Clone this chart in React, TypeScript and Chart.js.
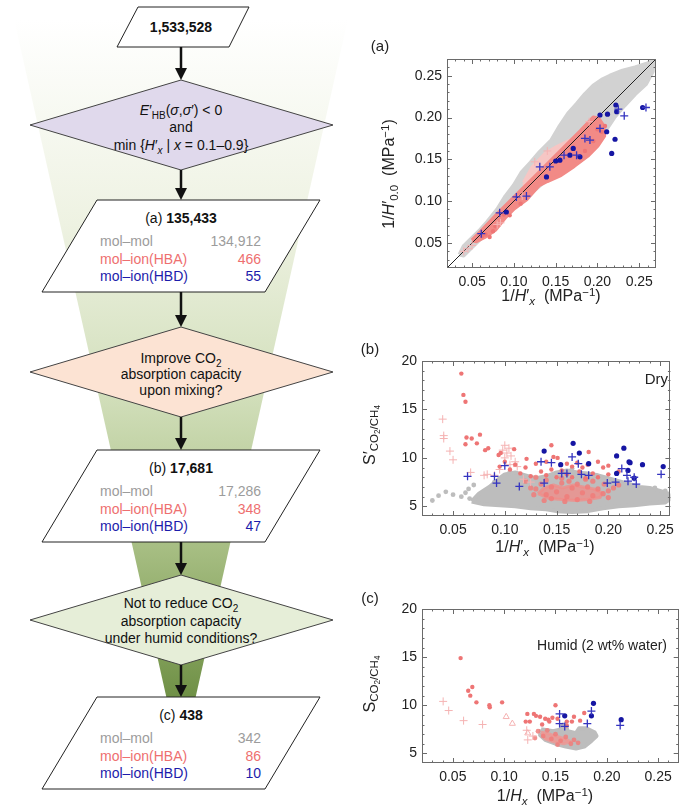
import React, { useEffect, useRef } from "react";
import { Chart, registerables } from "chart.js";
Chart.register(...registerables);

type P = [number, number];
const FONT = '"Liberation Sans", Arial, Helvetica, sans-serif';

// ---------- ticks ----------
const hTicks = [0.05, 0.1, 0.15, 0.2, 0.25];
const sTicks = [5, 10, 15, 20];

// ---------- panel (a) : 1/H'x vs 1/H'0.0 ----------
const aGrayCloud: P[] = [
  [0.035, 0.036], [0.04, 0.046], [0.05, 0.056], [0.06, 0.066], [0.068, 0.075], [0.08, 0.09],
  [0.09, 0.106], [0.1, 0.119], [0.109, 0.134], [0.12, 0.146], [0.131, 0.159], [0.145, 0.173],
  [0.155, 0.19], [0.165, 0.205], [0.175, 0.216], [0.185, 0.228], [0.195, 0.238], [0.205, 0.245],
  [0.215, 0.25], [0.23, 0.256], [0.245, 0.26], [0.258, 0.264], [0.267, 0.268], [0.266, 0.255],
  [0.258, 0.24], [0.245, 0.228], [0.232, 0.214], [0.22, 0.2], [0.21, 0.185], [0.2, 0.175],
  [0.19, 0.168], [0.15, 0.135], [0.1, 0.092], [0.06, 0.055], [0.04, 0.035],
];
const aPinkCloud: P[] = [
  [0.112, 0.122], [0.122, 0.14], [0.138, 0.157], [0.152, 0.165], [0.166, 0.172], [0.17, 0.165],
  [0.16, 0.158], [0.145, 0.146], [0.128, 0.13], [0.115, 0.116],
];
const aRedCloud: P[] = [
  [0.05, 0.053], [0.06, 0.063], [0.08, 0.084], [0.1, 0.104], [0.12, 0.124], [0.14, 0.144],
  [0.16, 0.164], [0.18, 0.184], [0.195, 0.2], [0.201, 0.199], [0.207, 0.19], [0.208, 0.178],
  [0.2, 0.166], [0.188, 0.154], [0.172, 0.142], [0.156, 0.131], [0.14, 0.124], [0.13, 0.119],
  [0.115, 0.102], [0.1, 0.091], [0.09, 0.081], [0.078, 0.066], [0.065, 0.057], [0.055, 0.052],
];
const aRedDots: P[] = [
  [0.062, 0.058], [0.066, 0.06], [0.071, 0.057], [0.075, 0.064], [0.078, 0.07], [0.088, 0.084],
  [0.095, 0.083], [0.108, 0.097], [0.195, 0.172], [0.205, 0.183], [0.2, 0.186], [0.185, 0.16],
  [0.209, 0.19],
];
const aPinkCross: P[] = [
  [0.04, 0.04], [0.045, 0.043], [0.05, 0.047], [0.08, 0.072], [0.084, 0.074], [0.11, 0.106],
  [0.125, 0.147], [0.14, 0.16], [0.19, 0.195],
];
const aBlueDots: P[] = [
  [0.222, 0.215], [0.223, 0.207], [0.212, 0.204], [0.203, 0.203], [0.254, 0.212], [0.211, 0.183],
  [0.221, 0.174], [0.217, 0.157], [0.171, 0.163], [0.167, 0.155], [0.179, 0.153], [0.155, 0.149],
  [0.139, 0.129], [0.091, 0.087], [0.15, 0.148],
];
const aBlueCross: P[] = [
  [0.232, 0.202], [0.203, 0.187], [0.191, 0.173], [0.143, 0.141], [0.131, 0.141], [0.103, 0.105],
  [0.083, 0.086], [0.061, 0.061], [0.115, 0.106], [0.16, 0.155], [0.175, 0.155], [0.185, 0.175],
  [0.225, 0.21], [0.258, 0.212],
];
const aDiagonal: P[] = [[0.02, 0.02], [0.27, 0.27]];

// ---------- panel (b) : Dry ----------
const bGrayCloud: P[] = [
  [0.068, 5.5], [0.075, 6.3], [0.085, 7.0], [0.095, 7.9], [0.1, 8.3], [0.11, 8.5], [0.12, 8.2],
  [0.13, 7.9], [0.14, 8.1], [0.15, 8.5], [0.16, 8.7], [0.17, 8.5], [0.18, 8.4], [0.19, 8.2],
  [0.2, 7.9], [0.21, 7.6], [0.22, 7.3], [0.23, 7.0], [0.24, 6.9], [0.25, 6.6], [0.258, 6.3],
  [0.26, 5.8], [0.255, 5.4], [0.24, 5.3], [0.225, 5.1], [0.21, 5.0], [0.195, 4.8], [0.18, 4.5],
  [0.165, 4.4], [0.15, 4.5], [0.14, 4.7], [0.125, 4.8], [0.11, 5.0], [0.095, 5.1], [0.08, 5.2],
];
const bGrayDots: P[] = [
  [0.03, 5.6], [0.036, 6.1], [0.043, 6.5], [0.05, 6.2], [0.058, 6.0], [0.062, 6.4], [0.065, 6.8],
  [0.07, 7.2], [0.066, 5.8], [0.09, 7.5], [0.255, 6.6], [0.245, 6.9], [0.105, 8.6], [0.165, 8.9],
];
const bRedCloud: P[] = [
  [0.132, 6.3], [0.138, 6.9], [0.147, 7.2], [0.156, 6.9], [0.166, 7.2], [0.176, 7.0],
  [0.186, 6.8], [0.194, 6.4], [0.192, 5.9], [0.18, 5.7], [0.168, 5.6], [0.155, 5.7],
  [0.143, 5.8],
];
const bRedFill: P[] = [
  [0.13, 6.8], [0.135, 7.3], [0.14, 6.2], [0.145, 7.0], [0.15, 6.5], [0.155, 7.4], [0.16, 6.0],
  [0.165, 6.9], [0.17, 7.3], [0.175, 6.4], [0.18, 7.0], [0.185, 6.1], [0.19, 6.8], [0.195, 6.3],
  [0.2, 6.6], [0.145, 5.8], [0.17, 5.7], [0.125, 6.9], [0.12, 7.6], [0.13, 8.0], [0.155, 7.9],
  [0.185, 7.6], [0.205, 6.9], [0.21, 7.2], [0.14, 7.7], [0.162, 7.6], [0.178, 7.8], [0.196, 7.3],
  [0.128, 6.2], [0.138, 5.6], [0.158, 5.5], [0.182, 5.5], [0.2, 5.9],
];
const bRedDots: P[] = [
  [0.058, 18.7], [0.06, 16.5], [0.062, 15.8], [0.063, 12.1], [0.062, 11.4], [0.068, 12.0],
  [0.073, 11.5], [0.076, 12.4], [0.081, 10.8], [0.084, 11.0], [0.094, 10.3], [0.096, 10.5],
  [0.109, 10.9], [0.121, 9.9], [0.145, 11.3], [0.147, 10.1], [0.151, 10.0], [0.181, 10.6],
  [0.1, 9.6], [0.11, 9.3], [0.12, 9.0], [0.13, 9.4], [0.14, 9.6], [0.16, 9.4], [0.165, 9.1],
  [0.17, 9.5], [0.175, 9.0], [0.18, 9.3], [0.19, 9.6], [0.195, 9.0], [0.2, 9.2], [0.135, 8.6],
  [0.145, 8.8], [0.155, 8.7], [0.16, 8.3], [0.172, 8.6], [0.185, 8.4], [0.19, 8.0], [0.2, 8.3],
  [0.21, 8.6], [0.125, 8.1], [0.115, 8.4], [0.105, 8.8], [0.095, 9.1], [0.14, 8.2], [0.15, 8.0],
  [0.165, 8.0], [0.178, 7.9],
];
const bPinkCross: P[] = [
  [0.04, 14.0], [0.041, 12.3], [0.041, 12.0], [0.047, 10.7], [0.05, 9.8], [0.067, 8.5],
  [0.08, 8.2], [0.083, 8.3], [0.098, 10.8], [0.1, 11.3], [0.102, 10.5], [0.104, 11.0],
  [0.106, 10.2], [0.1, 10.0], [0.11, 9.6], [0.112, 9.1], [0.105, 9.3], [0.095, 8.8], [0.09, 8.2],
  [0.118, 7.8], [0.125, 7.5],
];
const bBlueDots: P[] = [
  [0.138, 10.7], [0.166, 11.5], [0.172, 10.5], [0.215, 11.0], [0.208, 10.2], [0.154, 9.3],
  [0.181, 9.4], [0.221, 9.5], [0.233, 9.3], [0.253, 9.1], [0.208, 8.4], [0.219, 8.7],
  [0.225, 7.9], [0.22, 9.6],
];
const bBlueCross: P[] = [
  [0.165, 10.1], [0.171, 9.4], [0.1, 9.2], [0.064, 8.1], [0.09, 8.1], [0.092, 7.4], [0.114, 7.05],
  [0.138, 7.4], [0.155, 8.4], [0.16, 8.4], [0.174, 8.3], [0.181, 8.2], [0.199, 7.4], [0.207, 7.5],
  [0.213, 8.9], [0.218, 8.2], [0.219, 7.6], [0.227, 7.3], [0.251, 8.3], [0.145, 9.5],
  [0.135, 9.6], [0.225, 8.0],
];

// ---------- panel (c) : Humid ----------
const cGrayCloud: P[] = [
  [0.136, 7.5], [0.148, 7.3], [0.155, 7.5], [0.157, 8.0], [0.16, 7.9], [0.162, 7.3], [0.17, 7.1],
  [0.173, 7.6], [0.18, 7.6], [0.188, 7.2], [0.19, 6.8], [0.185, 6.3], [0.178, 5.7], [0.17, 5.5],
  [0.16, 5.7], [0.15, 6.0], [0.14, 6.4], [0.135, 6.9],
];
const cRedCloud: P[] = [
  [0.136, 7.2], [0.142, 7.1], [0.15, 6.8], [0.16, 6.5], [0.165, 6.2], [0.158, 6.0],
  [0.148, 6.2], [0.14, 6.5],
];
const cRedFill: P[] = [
  [0.133, 7.3], [0.138, 6.8], [0.142, 7.4], [0.146, 6.5], [0.15, 7.0], [0.155, 6.3], [0.16, 6.7],
  [0.165, 6.0], [0.168, 6.4], [0.152, 5.9], [0.172, 6.1], [0.13, 6.6],
];
const cRedDots: P[] = [
  [0.0576, 14.9], [0.065, 11.5], [0.069, 11.9], [0.067, 11.0], [0.073, 10.3], [0.0856, 10.0],
  [0.086, 9.8], [0.098, 10.3], [0.15, 10.0], [0.1226, 9.1], [0.129, 9.1], [0.121, 8.3],
  [0.125, 8.3], [0.135, 8.8], [0.14, 8.6], [0.143, 8.5], [0.144, 8.3], [0.137, 8.0], [0.168, 8.8],
  [0.161, 8.3], [0.166, 8.3], [0.174, 8.4], [0.178, 9.2], [0.161, 7.9], [0.147, 8.7],
  [0.152, 8.6], [0.131, 8.9],
];
const cPinkCross: P[] = [
  [0.0406, 10.4], [0.046, 9.45], [0.0605, 8.4], [0.079, 8.0], [0.123, 6.4], [0.122, 7.4],
  [0.128, 6.8],
];
const cPinkTri: P[] = [[0.102, 8.8], [0.108, 8.1], [0.123, 7.1]];
const cBlueDots: P[] = [[0.159, 8.9], [0.187, 10.2], [0.185, 8.9], [0.214, 8.5]];
const cBlueCross: P[] = [
  [0.185, 9.4], [0.181, 8.1], [0.213, 7.9], [0.154, 9.1], [0.154, 8.1], [0.159, 7.8],
];

// ---------- colours ----------
const RED = "#ee7575";
const PINK = "#f5b3b3";
const BLUE = "#1616a3";
const BLUE_X = "#3434c0";

const xy = (a: P[]) => a.map(([x, y]) => ({ x, y }));
const closed = (a: P[]) => xy([...a, a[0]]);

const cloud = (a: P[], color: string, order: number, bw = 4) => ({
  data: closed(a), showLine: true, fill: "shape", backgroundColor: color, borderColor: color,
  borderWidth: bw, borderJoinStyle: "round", pointRadius: 0, order,
});
const dots = (a: P[], color: string, r: number, order: number) => ({
  data: xy(a), showLine: false, pointStyle: "circle", pointRadius: r, backgroundColor: color,
  borderColor: color, borderWidth: 0, order,
});
const marks = (a: P[], style: string, color: string, r: number, w: number, order: number) => ({
  data: xy(a), showLine: false, pointStyle: style, pointRadius: r, backgroundColor: "rgba(0,0,0,0)",
  borderColor: color, borderWidth: w, order,
});

function framePlugin(xMaj: number[], yMaj: number[], xMinStep: number, yMinStep: number) {
  return {
    id: "frame",
    afterDatasetsDraw(chart: any) {
      const { ctx, chartArea } = chart;
      const { left, right, top, bottom } = chartArea;
      const xs = chart.scales.x, ys = chart.scales.y;
      ctx.save();
      ctx.strokeStyle = "#6a6a6a";
      ctx.lineWidth = 1;
      ctx.strokeRect(Math.round(left) + 0.5, Math.round(top) + 0.5, Math.round(right - left) - 1, Math.round(bottom - top) - 1);
      const ln = (x1: number, y1: number, x2: number, y2: number) => {
        ctx.beginPath(); ctx.moveTo(x1, y1); ctx.lineTo(x2, y2); ctx.stroke();
      };
      const near = (v: number, arr: number[]) => arr.some((m) => Math.abs(m - v) < 1e-9);
      for (let v = Math.ceil(xs.min / xMinStep - 1e-9) * xMinStep; v <= xs.max + 1e-9; v += xMinStep) {
        const vv = Math.round(v * 1e6) / 1e6;
        const len = near(vv, xMaj) ? 5 : 2.5;
        const px = Math.round(xs.getPixelForValue(vv)) + 0.5;
        if (px <= left + 1 || px >= right - 1) continue;
        ln(px, bottom, px, bottom - len); ln(px, top, px, top + len);
      }
      for (let v = Math.ceil(ys.min / yMinStep - 1e-9) * yMinStep; v <= ys.max + 1e-9; v += yMinStep) {
        const vv = Math.round(v * 1e6) / 1e6;
        const len = near(vv, yMaj) ? 5 : 2.5;
        const py = Math.round(ys.getPixelForValue(vv)) + 0.5;
        if (py <= top + 1 || py >= bottom - 1) continue;
        ln(left, py, left + len, py); ln(right, py, right - len, py);
      }
      ctx.restore();
    },
  };
}

type PanelProps = {
  left: number; top: number; width: number; height: number;
  xMin: number; xMax: number; yMin: number; yMax: number;
  xTicks: number[]; yTicks: number[]; yDigits: number;
  yWidth: number; xHeight: number; padTop: number; padRight: number;
  xMinStep: number; yMinStep: number; datasets: any[];
};

function Panel(p: PanelProps) {
  const ref = useRef<HTMLCanvasElement>(null);
  useEffect(() => {
    const tickFont = { family: FONT, size: 14 };
    const chart = new Chart(ref.current as HTMLCanvasElement, {
      type: "scatter",
      data: { datasets: p.datasets },
      options: {
        animation: false,
        responsive: false,
        events: [],
        layout: { padding: { top: p.padTop, right: p.padRight, left: 0, bottom: 0 } },
        plugins: { legend: { display: false }, tooltip: { enabled: false } },
        scales: {
          x: {
            type: "linear", min: p.xMin, max: p.xMax,
            grid: { display: false, drawTicks: false }, border: { display: false },
            ticks: { font: tickFont, color: "#222", padding: 6, maxRotation: 0, autoSkip: false,
              callback: (v: any) => Number(v).toFixed(2) },
            afterBuildTicks: (s: any) => { s.ticks = p.xTicks.map((value) => ({ value })); },
            afterFit: (s: any) => { s.height = p.xHeight; },
          },
          y: {
            type: "linear", min: p.yMin, max: p.yMax,
            grid: { display: false, drawTicks: false }, border: { display: false },
            ticks: { font: tickFont, color: "#222", padding: 5, autoSkip: false,
              callback: (v: any) => Number(v).toFixed(p.yDigits) },
            afterBuildTicks: (s: any) => { s.ticks = p.yTicks.map((value) => ({ value })); },
            afterFit: (s: any) => { s.width = p.yWidth; },
          },
        },
      } as any,
      plugins: [framePlugin(p.xTicks, p.yTicks, p.xMinStep, p.yMinStep)],
    } as any);
    return () => chart.destroy();
  }, []);
  return (
    <canvas ref={ref} width={p.width} height={p.height}
      style={{ position: "absolute", left: p.left, top: p.top, width: p.width, height: p.height }} />
  );
}

const sub: React.CSSProperties = { fontSize: "0.72em", verticalAlign: "-0.3em", lineHeight: 1 };
const sup: React.CSSProperties = { fontSize: "0.72em", verticalAlign: "0.45em", lineHeight: 1 };

function Label(props: { x: number; y: number; rotate?: boolean; size?: number; anchor?: string; children: any }) {
  const { x, y, rotate, size = 16, anchor = "center", children } = props;
  const tx = anchor === "right" ? "-100%" : "-50%";
  return (
    <div style={{
      position: "absolute", left: x, top: y, whiteSpace: "nowrap", fontFamily: FONT, fontSize: size,
      color: "#222", lineHeight: 1,
      transform: `translate(${tx}, -50%)${rotate ? " rotate(-90deg)" : ""}`,
    }}>{children}</div>
  );
}

const CX = 181;
function Arrow({ y1, y2 }: { y1: number; y2: number }) {
  return (
    <g>
      <line x1={CX} y1={y1} x2={CX} y2={y2 - 9} stroke="#111" strokeWidth={2.5} />
      <polygon points={`${CX - 6},${y2 - 12} ${CX + 6},${y2 - 12} ${CX},${y2}`} fill="#111" />
    </g>
  );
}

const GRAYT = "#9c9c9c", REDT = "#ee6f6f", BLUET = "#1c1cab";
function Counts({ top, tag, total, rows }: { top: number; tag: string; total: string; rows: string[] }) {
  const cols = [GRAYT, REDT, BLUET];
  const names = ["mol\u2013mol", "mol\u2013ion(HBA)", "mol\u2013ion(HBD)"];
  return (
    <g fontSize={14}>
      <polygon points={`97,${top} 320,${top} 265,${top + 92} 42,${top + 92}`} fill="#fff" stroke="#222" strokeWidth={1} />
      <text x={CX} y={top + 23} textAnchor="middle" fill="#111">{tag} <tspan fontWeight="bold">{total}</tspan></text>
      {names.map((n, i) => (
        <g key={n}>
          <text x={100} y={top + 46 + i * 17.5} fill={cols[i]}>{n}</text>
          <text x={261} y={top + 46 + i * 17.5} fill={cols[i]} textAnchor="end">{rows[i]}</text>
        </g>
      ))}
    </g>
  );
}

function Flowchart() {
  return (
    <svg width={360} height={808} style={{ position: "absolute", left: 0, top: 0 }} fontFamily={FONT}>
      <defs>
        <linearGradient id="funnel" x1="0" y1="20" x2="0" y2="700" gradientUnits="userSpaceOnUse">
          <stop offset="0" stopColor="#ffffff" />
          <stop offset="0.3" stopColor="#eef2e2" />
          <stop offset="0.55" stopColor="#d2dfbb" />
          <stop offset="0.75" stopColor="#adc38a" />
          <stop offset="0.9" stopColor="#88a560" />
          <stop offset="1" stopColor="#6e8f45" />
        </linearGradient>
      </defs>
      <polygon points="12,10 350,10 186,740 176,740" fill="url(#funnel)" />
      <polygon points="138,7 249,7 229,47 117,47" fill="#fff" stroke="#222" strokeWidth={1} />
      <text x={CX} y={32} textAnchor="middle" fontSize={14} fontWeight="bold" fill="#111">1,533,528</text>
      <Arrow y1={47} y2={80} />
      <polygon points={`${CX},80 333,125 ${CX},170 30,125`} fill="#e0d9ec" stroke="#444" strokeWidth={1} />
      <g fontSize={14} fill="#111" textAnchor="middle">
        <text x={CX} y={115}>
          <tspan fontStyle="italic">E</tspan>{"\u2032"}<tspan fontSize={10} dy={4}>HB</tspan>
          <tspan dy={-4}>(</tspan><tspan fontStyle="italic">{"\u03c3"}</tspan>,<tspan fontStyle="italic">{"\u03c3"}</tspan>{"\u2032) < 0"}
        </text>
        <text x={CX} y={132}>and</text>
        <text x={CX} y={150}>
          min {"{"}<tspan fontStyle="italic">H</tspan>{"\u2032"}<tspan fontSize={10} dy={4} fontStyle="italic">x</tspan>
          <tspan dy={-4}> | </tspan><tspan fontStyle="italic">x</tspan>{" = 0.1\u20130.9}"}
        </text>
      </g>
      <Arrow y1={170} y2={200} />
      <Counts top={200} tag="(a)" total="135,433" rows={["134,912", "466", "55"]} />
      <Arrow y1={292} y2={327} />
      <polygon points={`${CX},327 333,372 ${CX},417 30,372`} fill="#fce3d3" stroke="#444" strokeWidth={1} />
      <g fontSize={14} fill="#111" textAnchor="middle">
        <text x={CX} y={363}>Improve CO<tspan fontSize={10} dy={4}>2</tspan></text>
        <text x={CX} y={379}>absorption capacity</text>
        <text x={CX} y={395}>upon mixing?</text>
      </g>
      <Arrow y1={417} y2={450} />
      <Counts top={450} tag="(b)" total="17,681" rows={["17,286", "348", "47"]} />
      <Arrow y1={542} y2={575} />
      <polygon points={`${CX},575 333,620 ${CX},665 30,620`} fill="#e6eed8" stroke="#444" strokeWidth={1} />
      <g fontSize={14} fill="#111" textAnchor="middle">
        <text x={CX} y={608}>Not to reduce CO<tspan fontSize={10} dy={4}>2</tspan></text>
        <text x={CX} y={626}>absorption capacity</text>
        <text x={CX} y={643}>under humid conditions?</text>
      </g>
      <Arrow y1={665} y2={697} />
      <Counts top={697} tag="(c)" total="438" rows={["342", "86", "10"]} />
    </svg>
  );
}

export default function App() {
  const dsA = [
    cloud(aGrayCloud, "#d2d2d2", 20),
    cloud(aPinkCloud, "#f6c6c4", 19),
    cloud(aRedCloud, "#f28a86", 18),
    { data: xy(aDiagonal), showLine: true, borderColor: "#222", borderWidth: 1, pointRadius: 0, fill: false, order: 10 },
    dots(aRedDots, RED, 2.2, 9),
    marks(aPinkCross, "cross", PINK, 4, 1, 8),
    dots(aBlueDots, BLUE, 2.6, 2),
    marks(aBlueCross, "cross", BLUE_X, 4, 1.3, 1),
  ];
  const dsB = [
    cloud(bGrayCloud, "#bdbdbd", 20),
    dots(bGrayDots, "#bdbdbd", 2.4, 19),
    cloud(bRedCloud, "rgba(242,140,136,0.75)", 18, 3),
    dots(bRedFill, "rgba(240,125,122,0.85)", 2.6, 17),
    marks(bPinkCross, "cross", PINK, 4, 1, 9),
    dots(bRedDots, RED, 2.2, 8),
    dots(bBlueDots, BLUE, 2.6, 2),
    marks(bBlueCross, "cross", BLUE_X, 4, 1.3, 1),
  ];
  const dsC = [
    cloud(cGrayCloud, "#bdbdbd", 20),
    cloud(cRedCloud, "rgba(240,150,146,0.75)", 18, 3),
    dots(cRedFill, "rgba(240,125,122,0.85)", 2.4, 17),
    marks(cPinkCross, "cross", PINK, 4, 1, 9),
    marks(cPinkTri, "triangle", PINK, 3.5, 1, 9),
    dots(cRedDots, RED, 2.2, 8),
    dots(cBlueDots, BLUE, 2.6, 2),
    marks(cBlueCross, "cross", BLUE_X, 4, 1.3, 1),
  ];
  return (
    <div style={{ position: "absolute", left: 0, top: 0, width: 684, height: 808, background: "#fff", overflow: "hidden" }}>
      <Flowchart />
      <Panel left={380} top={40} width={295} height={272} xMin={0.02} xMax={0.27} yMin={0.02} yMax={0.27}
        xTicks={hTicks} yTicks={hTicks} yDigits={2} yWidth={67} xHeight={44} padTop={19} padRight={19}
        xMinStep={0.01} yMinStep={0.01} datasets={dsA} />
      <Panel left={360} top={345} width={320} height={200} xMin={0.02} xMax={0.26} yMin={4} yMax={20}
        xTicks={hTicks} yTicks={sTicks} yDigits={0} yWidth={62} xHeight={29} padTop={16} padRight={7}
        xMinStep={0.01} yMinStep={1} datasets={dsB} />
      <Panel left={360} top={595} width={324} height={200} xMin={0.02} xMax={0.27} yMin={4} yMax={20}
        xTicks={hTicks} yTicks={sTicks} yDigits={0} yWidth={62} xHeight={32} padTop={14} padRight={3}
        xMinStep={0.01} yMinStep={1} datasets={dsC} />

      <Label x={380} y={45} size={15}>(a)</Label>
      <Label x={370} y={348} size={15}>(b)</Label>
      <Label x={370} y={597} size={15}>(c)</Label>

      <Label x={390} y={174} rotate>1/<i>H</i>{"\u2032"}<span style={sub}>0.0</span>{"\u00a0\u00a0"}(MPa<span style={sup}>{"\u22121"}</span>)</Label>
      <Label x={551} y={297}>1/<i>H</i>{"\u2032"}<span style={sub}><i>x</i></span>{"\u00a0\u00a0"}(MPa<span style={sup}>{"\u22121"}</span>)</Label>

      <Label x={372} y={435} rotate>S{"\u2032"}<span style={sub}>CO<span style={sub}>2</span>/CH<span style={sub}>4</span></span></Label>
      <Label x={545} y={548}>1/<i>H</i>{"\u2032"}<span style={sub}><i>x</i></span>{"\u00a0\u00a0"}(MPa<span style={sup}>{"\u22121"}</span>)</Label>
      <Label x={668} y={378} size={15} anchor="right">Dry</Label>

      <Label x={372} y={684} rotate>S<span style={sub}>CO<span style={sub}>2</span>/CH<span style={sub}>4</span></span></Label>
      <Label x={545} y={797}>1/<i>H</i><span style={sub}><i>x</i></span>{"\u00a0\u00a0"}(MPa<span style={sup}>{"\u22121"}</span>)</Label>
      <Label x={667} y={645} size={14} anchor="right">Humid (2 wt% water)</Label>
    </div>
  );
}
